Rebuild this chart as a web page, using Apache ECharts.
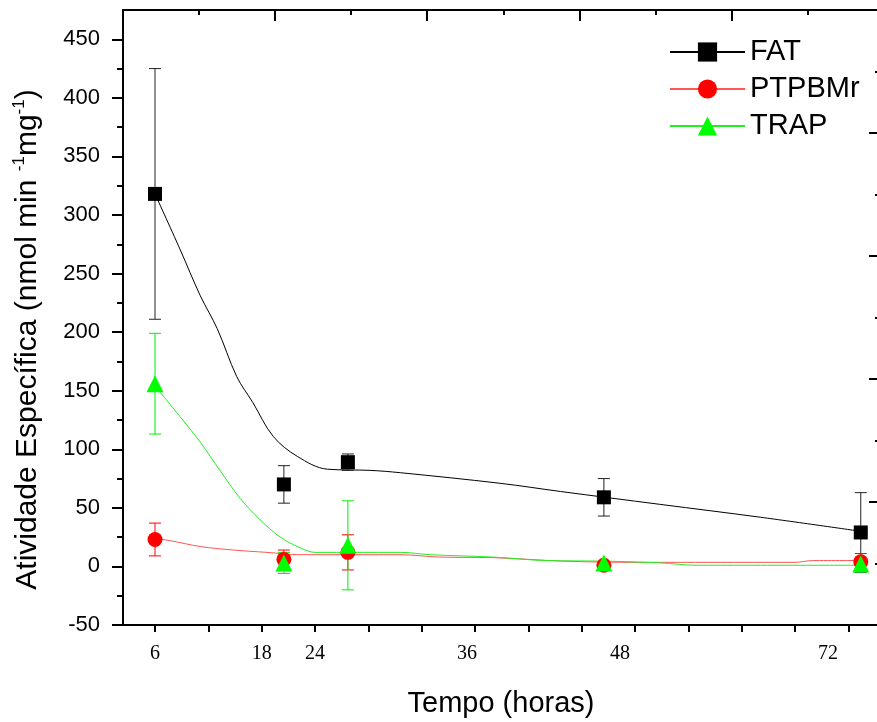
<!DOCTYPE html>
<html>
<head>
<meta charset="utf-8">
<title>Atividade específica</title>
<script src="https://cdn.jsdelivr.net/npm/echarts@6/dist/echarts.min.js"></script>
<style>
  html, body { margin: 0; padding: 0; background: #fff; }
  #chart { width: 877px; height: 722px; }
</style>
</head>
<body>
<div id="chart"></div>
<script>
// tempo dos pontos, na escala do eixo (um traço a cada 6)
const tempo = [6, 20.5, 27.7, 56.5, 85.4];

// médias e desvios
const fat = [318, 70, 89, 59, 29];
const fatErr = [107, 16, 7, 16, 34];
const ptp = [23, 6, 12, 1, 4];
const ptpErr = [14, 8, 15, 0, 7];
const trap = [156, 3, 18, 3, 2];
const trapErr = [43, 9, 38, 0, 0];

// curvas de tendência
const fatCurveX = [6, 8.8, 11.1, 13, 15.2, 17, 19.3, 22, 25.4, 30.2, 33.6, 44.8, 51.6, 62.8, 74.1, 85.4];
const fatCurveY = [318, 271, 231, 203, 162, 140, 111, 94, 83, 82, 80, 71, 64, 53, 42, 30];
const ptpCurveX = [6, 7.7, 11.1, 14.8, 18.6, 22.3, 33.6, 38, 44, 52, 60, 78, 80, 85.4];
const ptpCurveY = [24, 22, 17, 14, 12, 10, 10, 8, 7.5, 4.5, 3.5, 3.5, 5, 5];
const trapCurveX = [6, 8.8, 11.1, 13.3, 15.6, 17.8, 20.1, 22.3, 24, 33.6, 37, 44, 50, 56.5, 62.8, 67, 85.4];
const trapCurveY = [154, 128, 106, 82, 58, 40, 25, 16, 12, 12, 10, 8, 5, 4.5, 3, 1, 1];

// eixo x: traços e rótulos (os rótulos estão deslocados no original)
const xTicks = [6, 12, 18, 24, 30, 36, 42, 48, 54, 60, 66, 72, 78, 84];
const xLabelAt = [6, 18, 24, 41.1, 58.3, 81.7];
const xLabelText = ['6', '18', '24', '36', '48', '72'];

// eixo y
const yTicks = [-50, 0, 50, 100, 150, 200, 250, 300, 350, 400, 450];
const yMinorTicks = [-25, 25, 75, 125, 175, 225, 275, 325, 375, 425];

const sans = 'Liberation Sans, Arial, sans-serif';
const serif = 'Liberation Serif, Times New Roman, serif';

const pairs = (xs, ys) => xs.map((x, i) => [x, ys[i]]);

const errData = (ys, errs) =>
  tempo.map((x, i) => [x, ys[i] - errs[i], ys[i] + errs[i]]).filter((d, i) => errs[i] > 0);

const errorBars = (color) => (params, api) => {
  const x = api.value(0);
  const hi = api.coord([x, api.value(2)]);
  const lo = api.coord([x, api.value(1)]);
  const w = 6;
  const style = { stroke: color, lineWidth: 1 };
  return {
    type: 'group',
    children: [
      { type: 'line', shape: { x1: hi[0], y1: hi[1], x2: lo[0], y2: lo[1] }, style },
      { type: 'line', shape: { x1: hi[0] - w, y1: hi[1], x2: hi[0] + w, y2: hi[1] }, style },
      { type: 'line', shape: { x1: lo[0] - w, y1: lo[1], x2: lo[0] + w, y2: lo[1] }, style }
    ]
  };
};

const chart = echarts.init(document.getElementById('chart'));

const axisLine = { show: true, onZero: false, lineStyle: { color: '#000', width: 2 } };
const tickLine = { color: '#000', width: 2 };

const option = {
  animation: false,
  backgroundColor: '#fff',
  grid: { left: 123, top: 10, right: -2, bottom: 97, outerBoundsMode: 'none', containLabel: false },
  legend: {
    data: ['FAT', 'PTPBMr', 'TRAP'],
    orient: 'vertical',
    left: 664,
    top: 32,
    itemWidth: 75,
    itemHeight: 24,
    itemGap: 7,
    textStyle: { fontFamily: sans, fontSize: 29, color: '#000', lineHeight: 30 }
  },
  xAxis: [
    {
      type: 'value',
      position: 'bottom',
      min: 2.4,
      max: 87.45,
      name: 'Tempo (horas)',
      nameLocation: 'middle',
      nameGap: 64,
      nameTextStyle: { fontFamily: sans, fontSize: 29, color: '#000' },
      splitLine: { show: false },
      axisLine: axisLine,
      axisTick: { show: true, inside: false, length: 7, customValues: xTicks, lineStyle: tickLine },
      axisLabel: {
        customValues: xLabelAt,
        margin: 19,
        fontFamily: serif,
        fontSize: 20,
        color: '#000',
        formatter: (v) => {
          const i = xLabelAt.findIndex((p) => Math.abs(p - v) < 0.01);
          return i >= 0 ? xLabelText[i] : '';
        }
      }
    },
    {
      type: 'value',
      position: 'top',
      min: 0,
      max: 4.97,
      interval: 1,
      splitLine: { show: false },
      axisLine: axisLine,
      axisTick: { show: true, inside: true, length: 11, lineStyle: tickLine },
      minorTick: { show: true, splitNumber: 2, length: 5, lineStyle: tickLine },
      axisLabel: { show: false }
    }
  ],
  yAxis: [
    {
      type: 'value',
      position: 'left',
      min: -50,
      max: 475,
      name: 'Atividade Específica (nmol min {sup|-1}mg{sup|-1})',
      nameLocation: 'middle',
      nameGap: 78,
      nameTextStyle: {
        fontFamily: sans,
        fontSize: 30,
        color: '#000',
        lineHeight: 34,
        padding: [0, 44, 0, 0],
        rich: {
          sup: { fontFamily: sans, fontSize: 17, lineHeight: 17, verticalAlign: 'top', color: '#000' }
        }
      },
      splitLine: { show: false },
      axisLine: axisLine,
      axisTick: { show: true, inside: false, length: 11, customValues: yTicks, lineStyle: tickLine },
      axisLabel: { customValues: yTicks, margin: 23, fontFamily: sans, fontSize: 22, color: '#000' }
    },
    {
      type: 'value',
      position: 'left',
      offset: 0,
      min: -50,
      max: 475,
      splitLine: { show: false },
      axisLine: { show: false },
      axisTick: { show: true, inside: false, length: 6, customValues: yMinorTicks, lineStyle: tickLine },
      axisLabel: { show: false }
    },
    {
      type: 'value',
      position: 'right',
      min: 0,
      max: 5,
      interval: 1,
      splitLine: { show: false },
      axisLine: { show: false },
      axisTick: { show: true, inside: true, length: 10, lineStyle: tickLine },
      minorTick: { show: true, splitNumber: 2, length: 4, lineStyle: tickLine },
      axisLabel: { show: false }
    }
  ],
  series: [
    {
      name: 'FAT',
      type: 'line',
      data: pairs(fatCurveX, fatCurveY),
      smooth: 0.35,
      symbol: 'rect',
      showSymbol: false,
      lineStyle: { color: '#000', width: 1 },
      itemStyle: { color: '#000' },
      z: 2
    },
    {
      name: 'PTPBMr',
      type: 'line',
      data: pairs(ptpCurveX, ptpCurveY),
      smooth: 0.35,
      symbol: 'circle',
      showSymbol: false,
      lineStyle: { color: '#ff5555', width: 1 },
      itemStyle: { color: '#ff0000' },
      z: 2
    },
    {
      name: 'TRAP',
      type: 'line',
      data: pairs(trapCurveX, trapCurveY),
      smooth: 0.35,
      symbol: 'triangle',
      showSymbol: false,
      lineStyle: { color: '#22ee22', width: 1 },
      itemStyle: { color: '#00ff00' },
      z: 2
    },
    {
      name: 'FAT erro',
      type: 'custom',
      renderItem: errorBars('#222'),
      data: errData(fat, fatErr),
      encode: { x: 0, y: [1, 2] },
      z: 3
    },
    {
      name: 'PTPBMr erro',
      type: 'custom',
      renderItem: errorBars('#ff0000'),
      data: errData(ptp, ptpErr),
      encode: { x: 0, y: [1, 2] },
      z: 3
    },
    {
      name: 'TRAP erro',
      type: 'custom',
      renderItem: errorBars('#00ee00'),
      data: errData(trap, trapErr),
      encode: { x: 0, y: [1, 2] },
      z: 3
    },
    {
      name: 'FAT média',
      type: 'scatter',
      data: pairs(tempo, fat),
      symbol: 'rect',
      symbolSize: 14,
      itemStyle: { color: '#000', opacity: 1 },
      z: 4
    },
    {
      name: 'PTPBMr média',
      type: 'scatter',
      data: pairs(tempo, ptp),
      symbol: 'circle',
      symbolSize: 15,
      itemStyle: { color: '#ff0000', opacity: 1 },
      z: 4
    },
    {
      name: 'TRAP média',
      type: 'scatter',
      data: pairs(tempo, trap),
      symbol: 'triangle',
      symbolSize: 17,
      itemStyle: { color: '#00ff00', opacity: 1 },
      z: 4
    }
  ]
};

chart.setOption(option);
</script>
</body>
</html>
